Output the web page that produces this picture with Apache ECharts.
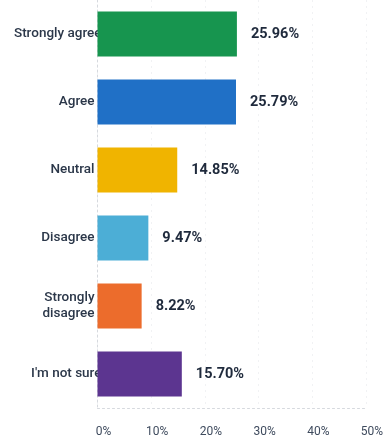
<!DOCTYPE html>
<html>
<head>
<meta charset="utf-8">
<script src="https://cdn.jsdelivr.net/npm/echarts@6/dist/echarts.min.js"></script>
<style>
  html, body { margin: 0; padding: 0; background: #ffffff; }
  #chart { width: 387px; height: 440px; }
</style>
</head>
<body>
<div id="chart"></div>
<script>
// Survey answer choices, top to bottom
const categories = ['Strongly agree', 'Agree', 'Neutral', 'Disagree', 'Strongly\ndisagree', "I'm not sure"];
// Share of respondents (%)
const values = [25.96, 25.79, 14.85, 9.47, 8.22, 15.70];
// One colour per answer choice
const barColors = ['#17954f', '#2070c6', '#f0b400', '#4caed6', '#ec6c2c', '#5c3590'];
// Percentage axis ticks
const axisMax = 50;
const axisStep = 10;
// Long answer labels run on under the bar instead of being padded away from it
const longLabels = ['Strongly agree', "I'm not sure"];

const chart = echarts.init(document.getElementById('chart'), null, { renderer: 'canvas' });

chart.setOption({
  animation: false,
  backgroundColor: '#ffffff',
  grid: { left: 97.5, right: 21, top: -2, bottom: 32, containLabel: false },
  xAxis: {
    type: 'value',
    min: 0,
    max: axisMax,
    interval: axisStep,
    axisLine: { show: true, lineStyle: { color: '#d6d9de', type: [2, 3], width: 1 } },
    axisTick: { show: false },
    splitLine: { show: true, lineStyle: { color: '#f1f2f4', type: [2, 4], width: 1 } },
    axisLabel: {
      formatter: v => v + '%',
      color: '#3f4b5e',
      fontSize: 12,
      fontFamily: 'Roboto, sans-serif',
      margin: 18,
      padding: [0, 0, 0, 12]
    }
  },
  yAxis: {
    type: 'category',
    data: categories,
    inverse: true,
    axisLine: { show: true, lineStyle: { color: '#d6d9de', type: [2, 3], width: 1 } },
    axisTick: { show: false },
    splitLine: { show: false },
    axisLabel: {
      margin: -4,
      align: 'right',
      formatter: v => v.split('\n')
        .map(line => (longLabels.includes(v) ? '{o|' : '{n|') + line + '}')
        .join('\n'),
      rich: {
        n: {
          color: '#2b3749', fontSize: 13.5, fontWeight: 500,
          fontFamily: 'Roboto, sans-serif', lineHeight: 16, padding: [0, 7, 0, 0]
        },
        o: {
          color: '#2b3749', fontSize: 13.5, fontWeight: 500,
          fontFamily: 'Roboto, sans-serif', lineHeight: 16
        }
      }
    }
  },
  series: [{
    type: 'bar',
    data: values.map((v, i) => ({ value: v, itemStyle: { color: barColors[i] } })),
    barCategoryGap: '34%',
    z: 3,
    label: {
      show: true,
      position: 'right',
      distance: 14,
      formatter: p => p.value.toFixed(2) + '%',
      color: '#1f2a3c',
      fontSize: 14.5,
      fontWeight: 'bold',
      fontFamily: 'Roboto, sans-serif'
    }
  }]
});
</script>
</body>
</html>
